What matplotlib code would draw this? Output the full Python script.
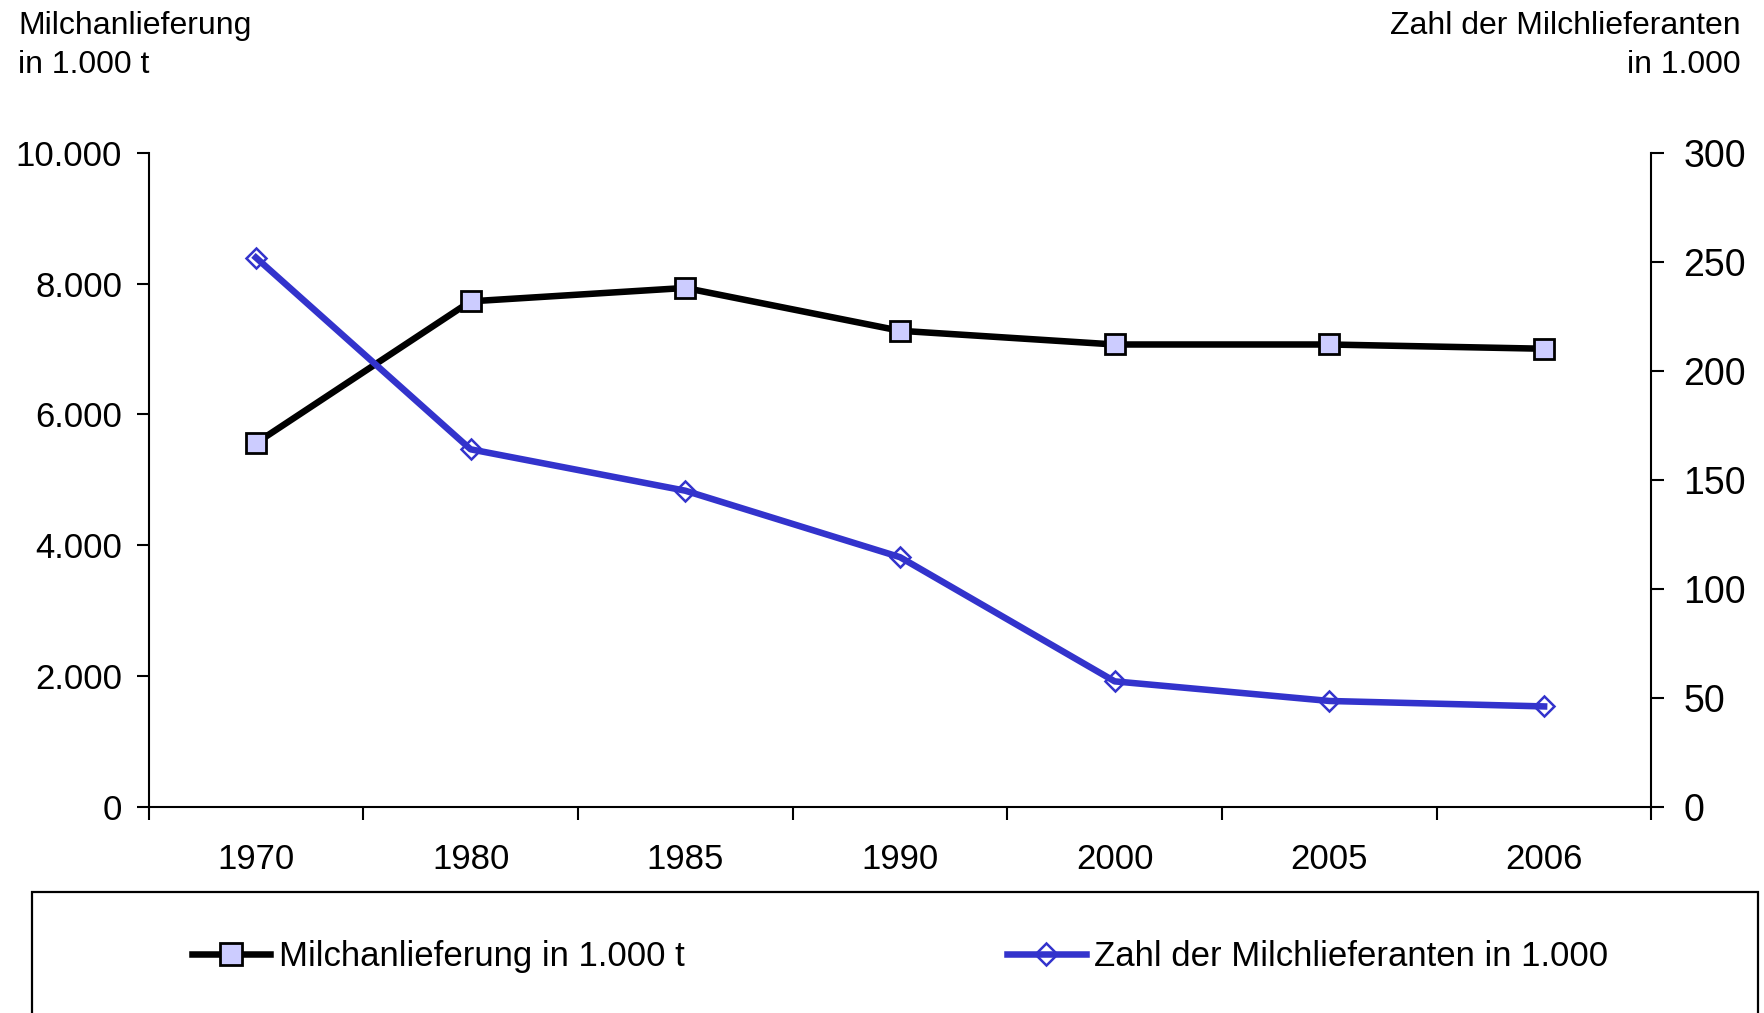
import matplotlib
matplotlib.use("Agg")
import matplotlib.pyplot as plt
from matplotlib.lines import Line2D
from matplotlib.patches import Rectangle

plt.rcParams['font.family'] = ['Liberation Sans', 'DejaVu Sans']

years = ["1970", "1980", "1985", "1990", "2000", "2005", "2006"]
milch = [5560, 7730, 7935, 7280, 7070, 7070, 7005]
lieferanten = [252, 164, 145, 114.5, 57.5, 48.5, 46]
left_ticks = [0, 2000, 4000, 6000, 8000, 10000]
right_ticks = [0, 50, 100, 150, 200, 250, 300]

black = "#000000"
blue = "#3333CC"
pale = "#CCCCFF"

fig = plt.figure(figsize=(17.64, 10.13), dpi=100)
ax = fig.add_axes([0.0842, 0.2037, 0.852, 0.6453])
ax2 = ax.twinx()

x = list(range(len(years)))
ax.plot(x, milch, color=black, lw=4.7, marker="s", ms=14, mfc=pale, mec=black, mew=2, zorder=3)
ax2.plot(x, lieferanten, color=blue, lw=4.7, marker="D", ms=10, mfc="none", mec=blue, mew=1.8, zorder=3)

ax.set_xlim(-0.5, len(years) - 0.5)
ax.set_ylim(0, 10000)
ax2.set_ylim(0, 300)

# category ticks sit between the categories, labels centred
ax.set_xticks([i - 0.5 for i in range(len(years) + 1)])
ax.set_xticklabels([])
ax.set_xticks(x, minor=True)
ax.set_xticklabels(years, minor=True)
ax.tick_params(axis="x", which="major", direction="out", length=9, width=1.5)
ax.tick_params(axis="x", which="minor", length=0, pad=26.5, labelsize=25)

ax.set_yticks(left_ticks)
ax.set_yticklabels(["0" if v == 0 else f"{v:,}".replace(",", ".") for v in left_ticks])
ax.tick_params(axis="y", direction="out", length=9, width=1.5, labelsize=25, pad=10)
ax2.set_yticks(right_ticks)
ax2.tick_params(axis="y", direction="out", length=9, width=1.5, labelsize=27, pad=14)

for a in (ax, ax2):
    a.spines["top"].set_visible(False)
    for s in ("left", "right", "bottom"):
        a.spines[s].set_linewidth(1.5)
ax.spines["right"].set_visible(False)
ax2.spines["left"].set_visible(False)
ax2.spines["bottom"].set_visible(False)

fig.text(0.0102, 0.9895, "Milchanlieferung\nin 1.000 t", ha="left", va="top", fontsize=23, linespacing=1.4)
fig.text(0.987, 0.9895, "Zahl der Milchlieferanten\nin 1.000", ha="right", va="top", fontsize=23, linespacing=1.4)

# legend frame running off the bottom edge
fig.patches.append(Rectangle((0.0179, -0.05), 0.9787, 0.1695, transform=fig.transFigure,
                             fill=False, ec=black, lw=1.6))

handles = [
    Line2D([], [], color=black, lw=4.7, marker="s", ms=16, mfc=pale, mec=black, mew=2),
    Line2D([], [], color=blue, lw=4.7, marker="D", ms=11, mfc="none", mec=blue, mew=1.8),
]
fig.legend(handles, ["Milchanlieferung in 1.000 t", "Zahl der Milchlieferanten in 1.000"],
           ncol=2, loc="center left", bbox_to_anchor=(0.109, 0.056), frameon=False,
           fontsize=25, handlelength=2.25, handletextpad=0.24, columnspacing=9.3,
           borderaxespad=0, borderpad=0)

fig.savefig("out.png", dpi=100)
